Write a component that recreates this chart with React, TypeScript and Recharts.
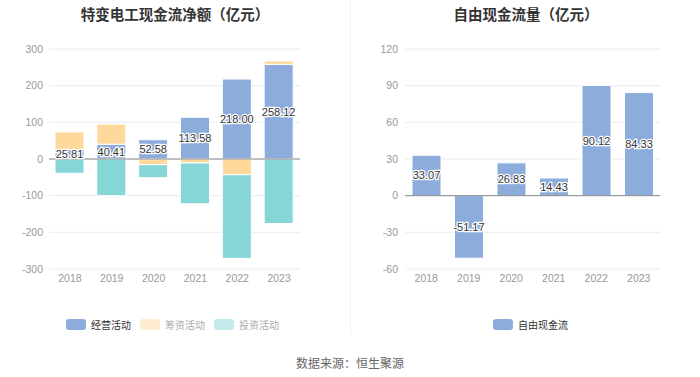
import { BarChart, Bar, XAxis, YAxis, CartesianGrid, ReferenceLine, LabelList } from 'recharts'

const years = ['2018', '2019', '2020', '2021', '2022', '2023']
// 现金流净额（亿元）
const operating = [25.81, 40.41, 52.58, 113.58, 218.0, 258.12]
const financing = [48, 55, -15.5, -11, -43, 9.5]
const investing = [-39, -100, -35.5, -111, -228, -176]
// 自由现金流量（亿元）
const freeCash = [33.07, -51.17, 26.83, 14.43, 90.12, 84.33]

const leftTicks = [-300, -200, -100, 0, 100, 200, 300]
const rightTicks = [-60, -30, 0, 30, 60, 90, 120]

const C_OP = '#8cacdb'
const C_FIN = '#ffd99b'
const C_INV = '#86d6d8'
const FONT = "'Liberation Sans', 'Noto Sans CJK SC', sans-serif"

const netData = years.map((y, i) => ({ year: y, op: operating[i], fin: financing[i], inv: investing[i] }))
const freeData = years.map((y, i) => ({ year: y, free: freeCash[i] }))

const valueLabel = (p: any) => {
  const { x, y, width, height, value } = p
  return (
    <text
      x={x + width / 2} y={y + height / 2} dy={4} textAnchor="middle"
      fontSize={11} fill="#333" stroke="#fff" strokeWidth={2.5} paintOrder="stroke" fontFamily={FONT}
    >
      {Number(value).toFixed(2)}
    </text>
  )
}

const tick = { fill: '#999', fontSize: 10.5, fontFamily: FONT }

function LegendItem({ color, label, faded }: { color: string; label: string; faded?: boolean }) {
  return (
    <div style={{ display: 'flex', alignItems: 'center', marginRight: 9 }}>
      <div style={{ width: 20, height: 11, borderRadius: 3, background: color, marginRight: 5 }} />
      <span style={{ fontSize: 10, color: faded ? '#aaa' : '#333' }}>{label}</span>
    </div>
  )
}

export default function App() {
  return (
    <div style={{ position: 'absolute', left: 0, top: 0, width: 700, height: 377, background: '#fff', fontFamily: FONT }}>
      <div style={{ position: 'absolute', left: 0, width: 350, top: 3, textAlign: 'center', fontSize: 14.5, fontWeight: 'bold', color: '#333' }}>
        特变电工现金流净额（亿元）
      </div>
      <div style={{ position: 'absolute', left: 350, width: 352, top: 3, textAlign: 'center', fontSize: 14.5, fontWeight: 'bold', color: '#333' }}>
        自由现金流量（亿元）
      </div>
      <div style={{ position: 'absolute', left: 350, top: 0, width: 1, height: 335, background: '#f0f0f0' }} />

      <div style={{ position: 'absolute', left: 0, top: 0 }}>
        <BarChart width={350} height={300} data={netData} stackOffset="sign" barSize={29}
          margin={{ top: 49, right: 50, bottom: 1, left: 0 }}>
          <CartesianGrid horizontal vertical={false} stroke="#e8ecf4" />
          <XAxis dataKey="year" axisLine={false} tickLine={false} tickSize={4} tick={tick} height={30} />
          <YAxis domain={[-300, 300]} ticks={leftTicks} axisLine={false} tickLine={false} tickSize={4} tick={tick} width={49} />
          <Bar dataKey="op" stackId="a" fill={C_OP} stroke="#fff" strokeWidth={1} isAnimationActive={false}>
            <LabelList dataKey="op" content={valueLabel} />
          </Bar>
          <Bar dataKey="fin" stackId="a" fill={C_FIN} stroke="#fff" strokeWidth={1} isAnimationActive={false} />
          <Bar dataKey="inv" stackId="a" fill={C_INV} stroke="#fff" strokeWidth={1} isAnimationActive={false} />
          <ReferenceLine y={0} stroke="#888" strokeWidth={1} />
        </BarChart>
      </div>

      <div style={{ position: 'absolute', left: 350, top: 0 }}>
        <BarChart width={350} height={300} data={freeData} barSize={29}
          margin={{ top: 49, right: 40, bottom: 1, left: 0 }}>
          <CartesianGrid horizontal vertical={false} stroke="#e8ecf4" />
          <XAxis dataKey="year" axisLine={false} tickLine={false} tickSize={4} tick={tick} height={30} />
          <YAxis domain={[-60, 120]} ticks={rightTicks} axisLine={false} tickLine={false} tickSize={5} tick={tick} width={55} />
          <Bar dataKey="free" fill={C_OP} stroke="#fff" strokeWidth={1} isAnimationActive={false}>
            <LabelList dataKey="free" content={valueLabel} />
          </Bar>
          <ReferenceLine y={0} stroke="#888" strokeWidth={1} />
        </BarChart>
      </div>

      <div style={{ position: 'absolute', left: 66, top: 317, display: 'flex' }}>
        <LegendItem color={C_OP} label="经营活动" />
        <LegendItem color="#ffedd1" label="筹资活动" faded />
        <LegendItem color="#c3ebed" label="投资活动" faded />
      </div>
      <div style={{ position: 'absolute', left: 493, top: 317, display: 'flex' }}>
        <LegendItem color={C_OP} label="自由现金流" />
      </div>

      <div style={{ position: 'absolute', left: 0, width: 700, top: 354, textAlign: 'center', fontSize: 12, color: '#666' }}>
        数据来源：恒生聚源
      </div>
    </div>
  )
}
